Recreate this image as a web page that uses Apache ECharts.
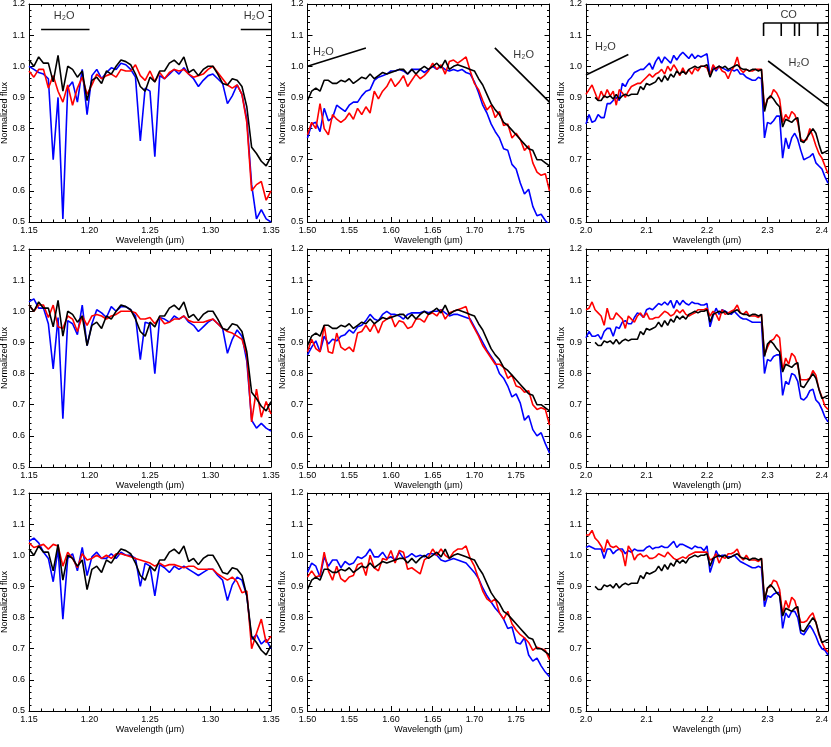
<!DOCTYPE html>
<html>
<head>
<meta charset="utf-8">
<script src="https://cdn.jsdelivr.net/npm/echarts@6/dist/echarts.min.js"></script>
<style>
html, body { margin: 0; padding: 0; background: #fff; }
#chart { width: 831px; height: 747px; }
</style>
</head>
<body>
<div id="chart"></div>
<script>
// wavelength grids (um)
const wlJ = [1.150,1.154,1.158,1.162,1.166,1.170,1.174,1.178,1.182,1.186,1.190,1.194,1.198,1.202,1.206,1.210,1.214,1.218,1.222,1.226,1.230,1.234,1.238,1.242,1.246,1.250,1.254,1.258,1.262,1.266,1.270,1.274,1.278,1.282,1.286,1.290,1.294,1.298,1.302,1.306,1.310,1.314,1.318,1.322,1.326,1.330,1.334,1.338,1.342,1.346,1.350];
const wlH = [1.500,1.505,1.510,1.515,1.520,1.525,1.530,1.535,1.540,1.545,1.550,1.555,1.560,1.565,1.570,1.575,1.580,1.585,1.590,1.595,1.600,1.605,1.610,1.615,1.620,1.625,1.630,1.635,1.640,1.645,1.650,1.655,1.660,1.665,1.670,1.675,1.680,1.685,1.690,1.695,1.700,1.705,1.710,1.715,1.720,1.725,1.730,1.735,1.740,1.745,1.750,1.755,1.760,1.765,1.770,1.775,1.780,1.785,1.790];
const wlK = [2.000,2.005,2.010,2.015,2.020,2.025,2.030,2.035,2.040,2.045,2.050,2.055,2.060,2.065,2.070,2.075,2.080,2.085,2.090,2.095,2.100,2.105,2.110,2.115,2.120,2.125,2.130,2.135,2.140,2.145,2.150,2.155,2.160,2.165,2.170,2.175,2.180,2.185,2.190,2.195,2.200,2.205,2.210,2.215,2.220,2.225,2.230,2.235,2.240,2.245,2.250,2.255,2.260,2.265,2.270,2.275,2.280,2.285,2.290,2.295,2.300,2.305,2.310,2.315,2.320,2.325,2.330,2.335,2.340,2.345,2.350,2.355,2.360,2.365,2.370,2.375,2.380,2.385,2.390,2.395,2.400];

// black = observed spectrum, same in every row
const blackJ = [1.02,1.00,1.03,1.01,1.01,0.95,1.035,0.92,1.00,0.99,0.965,0.985,0.89,0.955,0.965,0.945,0.985,0.975,1.0,1.02,1.015,1.005,0.975,0.935,0.92,0.965,0.95,0.985,0.985,1.01,1.02,1.005,1.03,0.98,0.99,0.97,0.99,1.0,1.0,0.975,0.945,0.94,0.96,0.955,0.935,0.87,0.74,0.72,0.695,0.68,0.71];
const blackH = [0.89,0.92,0.93,0.92,0.955,0.955,0.945,0.945,0.955,0.95,0.96,0.945,0.955,0.965,0.96,0.975,0.96,0.97,0.98,0.975,0.98,0.985,0.99,0.99,0.975,0.99,0.975,0.99,1.0,0.99,1.0,1.01,0.995,1.02,0.99,1.0,1.005,1.0,0.995,0.99,0.985,0.96,0.94,0.91,0.88,0.86,0.845,0.82,0.81,0.795,0.78,0.765,0.75,0.735,0.73,0.70,0.70,0.69,0.68];
const blackK = [null,null,null,0.90,0.89,0.89,0.905,0.90,0.905,0.895,0.91,0.895,0.905,0.91,0.905,0.91,0.91,0.91,0.935,0.925,0.945,0.94,0.945,0.95,0.965,0.95,0.97,0.955,0.975,0.965,0.985,0.975,0.985,0.975,0.99,0.995,1.0,0.995,1.0,1.0,1.005,0.965,0.99,0.995,1.0,0.995,1.0,0.99,0.995,1.0,1.005,0.995,0.99,0.99,0.985,0.99,0.99,0.985,0.99,0.855,0.895,0.905,0.895,0.88,0.87,0.805,0.83,0.825,0.82,0.83,0.835,0.76,0.755,0.77,0.785,0.80,0.785,0.75,0.72,0.725,0.73];

// J band models
const redJ1 = [0.985,0.965,0.99,0.99,0.93,0.97,0.92,0.885,0.94,0.875,0.93,0.965,0.91,0.94,0.975,0.96,0.97,0.975,0.965,0.99,0.985,0.985,1.005,0.97,0.955,0.985,0.95,0.98,0.96,0.98,0.99,0.985,0.99,0.975,0.965,0.97,0.975,0.99,1.0,0.98,0.96,0.94,0.93,0.94,0.91,0.82,0.60,0.62,0.63,0.57,0.60];
const blueJ1 = [1.00,0.99,0.98,0.975,0.96,0.70,0.90,0.51,0.93,0.95,0.885,0.99,0.845,0.97,0.99,0.96,0.98,0.995,0.99,1.01,1.005,0.99,0.965,0.76,0.93,0.92,0.71,0.97,0.96,0.975,0.99,0.975,0.995,0.975,0.96,0.935,0.955,0.97,0.975,0.96,0.945,0.88,0.905,0.94,0.91,0.83,0.62,0.51,0.54,0.51,0.50];
const redJ2 = [1.02,1.00,1.02,1.02,0.98,1.02,0.95,0.945,0.985,0.975,0.935,0.985,0.955,0.985,0.99,0.985,0.975,0.985,0.99,1.0,1.0,1.0,0.995,0.975,0.975,0.98,0.96,0.98,0.96,0.965,0.975,0.975,0.985,0.97,0.965,0.965,0.965,0.97,0.975,0.96,0.945,0.935,0.93,0.92,0.91,0.86,0.645,0.75,0.66,0.71,0.67];
const blueJ2 = [1.03,1.04,1.01,1.01,0.96,0.815,0.98,0.655,0.97,0.96,0.925,1.02,0.89,0.96,1.005,0.995,0.98,1.015,1.0,1.015,1.015,1.005,0.985,0.845,0.965,0.96,0.80,0.98,0.975,0.965,0.985,0.975,0.985,0.965,0.955,0.935,0.95,0.965,0.975,0.96,0.945,0.865,0.91,0.94,0.92,0.84,0.65,0.625,0.64,0.625,0.615];
const redJ3 = [1.04,1.025,1.03,1.035,1.02,1.035,1.03,0.965,1.01,0.99,0.96,1.005,0.985,0.99,1.0,0.99,1.0,0.99,1.005,1.005,1.0,0.995,0.99,0.985,0.98,0.975,0.965,0.975,0.965,0.97,0.97,0.965,0.96,0.965,0.965,0.955,0.955,0.955,0.955,0.94,0.93,0.92,0.93,0.915,0.88,0.885,0.70,0.75,0.795,0.72,0.74];
const blueJ3 = [1.045,1.055,1.04,1.01,0.99,0.915,1.02,0.795,0.99,1.005,0.95,1.025,0.935,0.995,1.01,0.99,0.99,1.005,0.99,1.01,1.0,1.0,0.99,0.90,0.975,0.965,0.87,0.97,0.96,0.945,0.965,0.955,0.965,0.955,0.945,0.935,0.945,0.955,0.955,0.935,0.92,0.855,0.905,0.93,0.92,0.87,0.73,0.745,0.715,0.73,0.70];

// H band models
const redH1 = [0.78,0.82,0.80,0.88,0.80,0.78,0.845,0.83,0.82,0.83,0.85,0.83,0.865,0.845,0.87,0.85,0.92,0.895,0.92,0.935,0.96,0.935,0.95,0.97,0.935,0.955,0.975,0.96,0.97,0.985,1.01,0.99,1.005,0.975,1.015,1.02,1.01,1.02,1.03,0.985,0.945,0.925,0.89,0.86,0.875,0.835,0.855,0.81,0.815,0.77,0.785,0.765,0.73,0.745,0.69,0.66,0.65,0.655,0.60];
const blueH1 = [0.77,0.815,0.82,0.79,0.865,0.825,0.835,0.875,0.865,0.855,0.875,0.885,0.885,0.905,0.92,0.925,0.955,0.965,0.97,0.975,0.985,0.985,0.99,0.985,0.975,0.99,0.99,0.99,0.98,0.99,1.0,0.99,1.0,0.99,0.985,0.99,0.985,0.99,0.98,0.975,0.95,0.915,0.875,0.85,0.815,0.79,0.77,0.735,0.73,0.685,0.67,0.625,0.59,0.605,0.55,0.52,0.525,0.505,0.49];
const redH2 = [0.87,0.91,0.88,0.87,0.955,0.87,0.865,0.93,0.885,0.875,0.885,0.87,0.93,0.935,0.955,0.935,0.96,0.93,0.965,0.975,0.985,0.95,0.97,0.965,0.945,0.95,0.975,0.975,0.965,0.99,0.995,0.985,1.005,0.975,0.995,1.0,1.005,1.01,1.015,0.97,0.945,0.92,0.89,0.87,0.85,0.83,0.83,0.82,0.785,0.795,0.76,0.755,0.74,0.745,0.70,0.685,0.69,0.685,0.635];
const blueH2 = [0.86,0.885,0.905,0.87,0.92,0.895,0.91,0.905,0.92,0.925,0.94,0.93,0.95,0.955,0.97,0.99,0.975,0.97,0.99,1.0,0.99,0.99,0.985,0.975,0.99,0.995,0.995,0.995,1.0,0.995,1.0,1.0,1.005,0.995,0.985,0.99,0.99,0.985,0.98,0.975,0.95,0.925,0.90,0.875,0.855,0.835,0.80,0.785,0.76,0.725,0.735,0.705,0.65,0.665,0.62,0.60,0.61,0.575,0.545];
const redH3 = [0.93,0.95,0.93,0.935,1.01,0.95,0.92,0.965,0.925,0.915,0.93,0.935,0.97,0.975,0.935,1.0,0.96,0.95,0.99,0.985,1.015,0.975,1.015,1.01,0.955,0.96,0.95,0.94,0.985,0.995,1.02,1.0,1.02,1.0,0.99,1.01,1.02,1.02,1.03,0.99,0.965,0.925,0.885,0.86,0.85,0.86,0.815,0.795,0.82,0.78,0.76,0.745,0.735,0.72,0.695,0.705,0.70,0.695,0.665];
const blueH3 = [0.945,0.975,0.965,0.93,0.995,0.965,0.985,0.985,0.96,0.98,0.97,0.975,0.995,0.99,1.0,1.02,0.995,0.995,1.01,0.99,0.995,0.985,1.01,0.99,0.995,1.005,0.995,1.0,0.995,1.005,1.005,1.0,0.985,0.98,0.985,0.99,0.985,0.98,0.975,0.96,0.945,0.925,0.895,0.87,0.85,0.83,0.815,0.795,0.765,0.77,0.72,0.715,0.735,0.68,0.66,0.67,0.645,0.625,0.61];

// K band models
const redK1 = [0.91,0.925,0.94,0.915,0.89,0.92,0.90,0.925,0.905,0.92,0.875,0.925,0.915,0.90,0.92,0.935,0.94,0.945,0.945,0.955,0.965,0.975,0.965,0.975,0.98,0.99,0.975,1.0,0.985,1.005,0.99,0.97,0.995,0.975,0.99,0.975,0.995,0.985,1.0,1.0,0.995,0.97,1.005,0.99,1.0,0.985,0.98,0.96,0.985,1.0,1.03,0.99,0.98,0.99,0.985,0.985,0.99,0.99,0.99,0.865,0.895,0.90,0.925,0.915,0.895,0.82,0.845,0.83,0.855,0.845,0.82,0.765,0.76,0.765,0.80,0.775,0.745,0.72,0.705,0.68,0.655];
const blueK1 = [0.815,0.845,0.82,0.825,0.845,0.835,0.835,0.88,0.88,0.89,0.90,0.89,0.945,0.935,0.955,0.965,0.98,0.985,0.99,0.99,1.0,1.01,0.99,1.015,1.03,1.01,1.03,1.02,1.01,1.035,1.02,1.035,1.045,1.035,1.025,1.04,1.025,1.035,1.03,1.035,1.04,0.97,1.0,0.985,1.0,0.995,0.99,0.985,0.99,0.985,0.99,0.975,0.975,0.965,0.96,0.955,0.955,0.965,0.96,0.77,0.82,0.815,0.825,0.84,0.84,0.705,0.77,0.735,0.77,0.785,0.765,0.73,0.70,0.705,0.71,0.72,0.69,0.68,0.67,0.645,0.625];
const redK2 = [1.005,1.01,1.03,1.005,0.995,0.985,0.955,1.01,0.975,0.975,0.995,0.985,0.975,0.945,0.985,0.975,0.965,0.985,0.995,0.98,0.995,0.975,0.975,0.98,0.98,0.99,1.0,0.995,0.985,0.99,1.005,0.995,1.005,0.99,0.985,0.99,0.995,1.005,1.005,1.005,1.01,0.985,1.0,0.99,0.97,1.005,0.99,0.995,1.0,1.005,1.02,0.995,0.99,1.0,0.985,0.985,0.985,0.98,0.99,0.86,0.885,0.905,0.91,0.925,0.915,0.81,0.85,0.83,0.865,0.855,0.825,0.78,0.78,0.78,0.785,0.81,0.795,0.75,0.725,0.695,0.685];
const blueK2 = [0.915,0.935,0.92,0.92,0.925,0.91,0.935,0.945,0.945,0.92,0.95,0.945,0.965,0.97,0.96,0.96,0.98,0.995,0.99,0.98,1.005,1.01,1.005,1.015,1.025,1.02,1.03,1.02,1.035,1.01,1.035,1.02,1.035,1.025,1.02,1.03,1.025,1.025,1.02,1.02,1.025,0.95,0.985,1.01,0.99,1.005,1.0,0.995,0.99,1.0,0.99,0.98,0.975,0.975,0.97,0.965,0.965,0.965,0.965,0.80,0.845,0.84,0.855,0.86,0.86,0.73,0.775,0.765,0.80,0.795,0.775,0.72,0.715,0.725,0.745,0.75,0.715,0.705,0.685,0.66,0.645];
const redK3 = [1.065,1.065,1.08,1.055,1.045,1.03,1.01,1.05,1.03,1.025,1.03,1.02,1.01,0.965,1.03,1.015,0.985,1.0,1.005,0.995,1.0,0.99,0.99,0.995,1.005,1.0,0.995,1.01,1.0,0.99,0.985,0.99,0.995,0.99,1.0,1.005,1.01,1.01,1.01,1.01,1.01,0.985,0.99,1.005,0.975,0.995,0.99,1.005,1.005,1.01,1.02,0.995,0.985,1.0,0.985,0.985,0.985,0.98,0.99,0.855,0.895,0.90,0.92,0.915,0.89,0.81,0.855,0.83,0.865,0.855,0.82,0.785,0.785,0.79,0.805,0.815,0.785,0.745,0.72,0.70,0.69];
const blueK3 = [1.025,1.03,1.025,1.02,1.02,1.02,0.99,1.02,1.02,1.005,1.015,1.02,1.02,1.005,1.015,1.01,1.02,1.015,1.015,1.015,1.025,1.03,1.02,1.025,1.025,1.03,1.025,1.025,1.035,1.045,1.025,1.035,1.035,1.03,1.025,1.02,1.03,1.025,1.025,1.015,1.03,0.945,0.975,1.015,0.995,1.0,1.0,0.995,0.995,1.0,0.99,0.98,0.975,0.97,0.965,0.96,0.96,0.965,0.96,0.835,0.87,0.865,0.875,0.88,0.88,0.765,0.815,0.80,0.82,0.82,0.80,0.75,0.745,0.76,0.775,0.76,0.74,0.715,0.70,0.695,0.68];

// band markers drawn in the top row (data coords)
const h2oSegJ = [[[1.16, 1.118], [1.20, 1.118]], [[1.325, 1.118], [1.35, 1.118]]];
const h2oLblJ = [[1.179, 1.162], [1.336, 1.162]];
const h2oSegH = [[[1.50, 1.00], [1.57, 1.059]], [[1.7245, 1.059], [1.79, 0.885]]];
const h2oLblH = [[1.519, 1.045], [1.759, 1.037]];
const h2oSegK = [[[2.00, 0.972], [2.07, 1.038]], [[2.301, 1.017], [2.40, 0.872]]];
const h2oLblK = [[2.032, 1.061], [2.352, 1.01]];
const coHeads = [2.2935, 2.3227, 2.3448, 2.3525, 2.3830];
const coBarY = 1.139, coTickY = 1.097;
const coLbl = [2.335, 1.166];

const FONT = "'Liberation Sans', Arial, Helvetica, sans-serif";
const colLeft = [29, 307.5, 586];
const rowTop = [4, 249, 493];
const plotW = 242, plotH = 218;

const bands = [
  { wl: wlJ, min: 1.15, max: 1.35, step: 0.05, dec: 2, black: blackJ, red: [redJ1, redJ2, redJ3], blue: [blueJ1, blueJ2, blueJ3] },
  { wl: wlH, min: 1.50, max: 1.79, step: 0.05, dec: 2, black: blackH, red: [redH1, redH2, redH3], blue: [blueH1, blueH2, blueH3], hideMax: true },
  { wl: wlK, min: 2.0, max: 2.4, step: 0.1, dec: 1, black: blackK, red: [redK1, redK2, redK3], blue: [blueK1, blueK2, blueK3], alignMax: 'right' }
];

const tickStyle = { color: '#000', width: 1 };

function makeX(gi, b, pos) {
  const bottom = pos === 'bottom';
  return {
    type: 'value', gridIndex: gi, position: pos,
    min: b.min, max: b.max, interval: b.step,
    name: bottom ? 'Wavelength (\u03bcm)' : '',
    nameLocation: 'middle', nameGap: 14,
    nameTextStyle: { fontSize: 9, color: '#000', fontFamily: FONT },
    axisLine: { show: true, onZero: false, lineStyle: { color: '#000', width: 1 } },
    axisTick: { show: true, inside: true, length: 5, lineStyle: tickStyle },
    minorTick: { show: true, splitNumber: 5, length: 2.5, lineStyle: tickStyle },
    axisLabel: {
      show: bottom, fontSize: 9, color: '#000', fontFamily: FONT, margin: 4,
      showMinLabel: true, showMaxLabel: !b.hideMax,
      alignMaxLabel: b.alignMax || null,
      formatter: v => v.toFixed(b.dec)
    },
    splitLine: { show: false }
  };
}

function makeY(gi, pos) {
  const left = pos === 'left';
  return {
    type: 'value', gridIndex: gi, position: pos,
    min: 0.5, max: 1.2, interval: 0.1,
    name: left ? 'Normalized flux' : '',
    nameLocation: 'middle', nameGap: 16, nameRotate: 90,
    nameTextStyle: { fontSize: 9, color: '#000', fontFamily: FONT },
    axisLine: { show: true, onZero: false, lineStyle: { color: '#000', width: 1 } },
    axisTick: { show: true, inside: true, length: 5, lineStyle: tickStyle },
    minorTick: { show: true, splitNumber: 5, length: 2.5, lineStyle: tickStyle },
    axisLabel: {
      show: left, fontSize: 9, color: '#000', fontFamily: FONT, margin: 4,
      showMinLabel: true, showMaxLabel: true,
      formatter: v => v.toFixed(1)
    },
    splitLine: { show: false }
  };
}

function spec(wl, ys, color, ai) {
  return {
    type: 'line', xAxisIndex: ai, yAxisIndex: ai,
    data: wl.map((x, i) => [x, ys[i]]).filter(p => p[1] != null),
    symbol: 'none', silent: true, clip: true,
    lineStyle: { color: color, width: 1.6 },
    z: 3
  };
}

function seg(pts, ai) {
  return {
    type: 'line', xAxisIndex: ai, yAxisIndex: ai, data: pts,
    symbol: 'none', silent: true, clip: false,
    lineStyle: { color: '#000', width: 1.6 }, z: 4
  };
}

function txt(pos, text, ai) {
  return {
    type: 'scatter', xAxisIndex: ai, yAxisIndex: ai, data: [pos],
    symbolSize: 1, itemStyle: { color: 'rgba(0,0,0,0)' }, silent: true,
    label: { show: true, position: 'inside', formatter: text, fontSize: 11, color: '#000', fontFamily: FONT },
    z: 5
  };
}

const option = { animation: false, backgroundColor: '#fff', grid: [], xAxis: [], yAxis: [], series: [] };

for (let r = 0; r < 3; r++) {
  for (let c = 0; c < 3; c++) {
    const gi = r * 3 + c, b = bands[c];
    option.grid.push({ left: colLeft[c], top: rowTop[r], width: plotW, height: plotH, outerBoundsMode: 'none', containLabel: false });
    option.xAxis.push(makeX(gi, b, 'bottom'), makeX(gi, b, 'top'));
    option.yAxis.push(makeY(gi, 'left'), makeY(gi, 'right'));
    const ai = 2 * gi;
    option.series.push(
      spec(b.wl, b.blue[r], '#0000ff', ai),
      spec(b.wl, b.red[r], '#ff0000', ai),
      spec(b.wl, b.black, '#000000', ai)
    );
  }
}

// H2O and CO markers, top row
h2oSegJ.forEach(s => option.series.push(seg(s, 0)));
h2oLblJ.forEach(p => option.series.push(txt(p, 'H\u2082O', 0)));
h2oSegH.forEach(s => option.series.push(seg(s, 2)));
h2oLblH.forEach(p => option.series.push(txt(p, 'H\u2082O', 2)));
h2oSegK.forEach(s => option.series.push(seg(s, 4)));
h2oLblK.forEach(p => option.series.push(txt(p, 'H\u2082O', 4)));
option.series.push(seg([[coHeads[0], coBarY], [2.4, coBarY]], 4));
coHeads.forEach(x => option.series.push(seg([[x, coBarY], [x, coTickY]], 4)));
option.series.push(txt(coLbl, 'CO', 4));

const myChart = echarts.init(document.getElementById('chart'));
myChart.setOption(option);
</script>
</body>
</html>
